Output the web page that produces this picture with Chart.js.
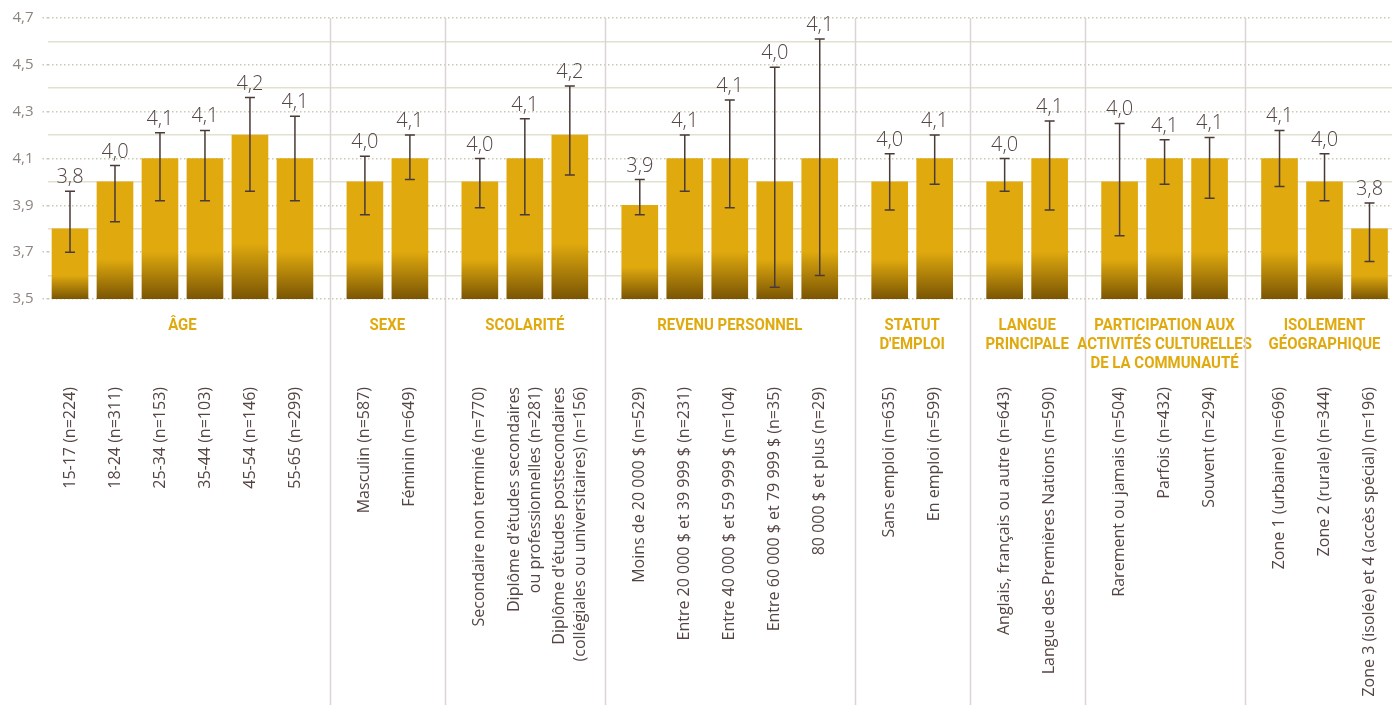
<!DOCTYPE html>
<html lang="fr">
<head>
<meta charset="utf-8">
<title>Moyennes selon les caractéristiques</title>
<script src="https://cdn.jsdelivr.net/npm/chart.js@4.4.1/dist/chart.umd.min.js"></script>
<style>
  html, body { margin: 0; padding: 0; background: #fff; }
  #wrap { width: 1392px; height: 705px; position: relative; }
</style>
</head>
<body>
<div id="wrap"><canvas id="meanChart"></canvas></div>
<script>
const groupTitles = [
  ['ÂGE'],
  ['SEXE'],
  ['SCOLARITÉ'],
  ['REVENU PERSONNEL'],
  ['STATUT', "D'EMPLOI"],
  ['LANGUE', 'PRINCIPALE'],
  ['PARTICIPATION AUX', 'ACTIVITÉS CULTURELLES', 'DE LA COMMUNAUTÉ'],
  ['ISOLEMENT', 'GÉOGRAPHIQUE']
];
const groupSizes = [6, 2, 3, 5, 2, 2, 3, 3];

const categories = [
  ['15-17 (n=224)'], ['18-24 (n=311)'], ['25-34 (n=153)'], ['35-44 (n=103)'], ['45-54 (n=146)'], ['55-65 (n=299)'],
  ['Masculin (n=587)'], ['Féminin (n=649)'],
  ['Secondaire non terminé (n=770)'],
  ["Diplôme d'études secondaires", 'ou professionnelles (n=281)'],
  ["Diplôme d'études postsecondaires", '(collégiales ou universitaires) (n=156)'],
  ['Moins de 20 000 $ (n=529)'], ['Entre 20 000 $ et 39 999 $ (n=231)'], ['Entre 40 000 $ et 59 999 $ (n=104)'],
  ['Entre 60 000 $ et 79 999 $ (n=35)'], ['80 000 $ et plus (n=29)'],
  ['Sans emploi (n=635)'], ['En emploi (n=599)'],
  ['Anglais, français ou autre (n=643)'], ['Langue des Premières Nations (n=590)'],
  ['Rarement ou jamais (n=504)'], ['Parfois (n=432)'], ['Souvent (n=294)'],
  ['Zone 1 (urbaine) (n=696)'], ['Zone 2 (rurale) (n=344)'], ['Zone 3 (isolée) et 4 (accès spécial) (n=196)']
];

const means = [3.8, 4.0, 4.1, 4.1, 4.2, 4.1, 4.0, 4.1, 4.0, 4.1, 4.2, 3.9, 4.1, 4.1, 4.0, 4.1, 4.0, 4.1, 4.0, 4.1, 4.0, 4.1, 4.1, 4.1, 4.0, 3.8];
const ciLow = [3.70, 3.83, 3.92, 3.92, 3.96, 3.92, 3.86, 4.01, 3.89, 3.86, 4.03, 3.86, 3.96, 3.89, 3.55, 3.60, 3.88, 3.99, 3.96, 3.88, 3.77, 3.99, 3.93, 3.98, 3.92, 3.66];
const ciHigh = [3.96, 4.07, 4.21, 4.22, 4.36, 4.28, 4.11, 4.20, 4.10, 4.27, 4.41, 4.01, 4.20, 4.35, 4.49, 4.61, 4.12, 4.20, 4.10, 4.26, 4.25, 4.18, 4.19, 4.22, 4.12, 3.91];

const yTicks = [3.5, 3.7, 3.9, 4.1, 4.3, 4.5, 4.7];
const yTickLabels = ['3,5', '3,7', '3,9', '4,1', '4,3', '4,5', '4,7'];

// extra room between two groups, in bar slots
const GROUP_GAP = 0.555;
const GOLD = '#e0aa0e';
const BROWN = '#7a5504';
const TEXT = '#544543';
const SEP = '#dcd3d3';

// x position of each bar: slot index + gaps for the groups already passed
const xPos = [];
groupSizes.forEach((n, g) => {
  for (let i = 0; i < n; i++) xPos.push(xPos.length + g * GROUP_GAP);
});

const tickIndex = v => yTicks.findIndex(t => Math.abs(t - v) < 1e-6);

const barFill = c => {
  const { ctx, chartArea, scales } = c.chart;
  if (!chartArea || !c.raw) return GOLD;
  const top = scales.y.getPixelForValue(c.raw.y);
  const bottom = scales.y.getPixelForValue(scales.y.min);
  const g = ctx.createLinearGradient(0, top, 0, bottom);
  g.addColorStop(0, GOLD);
  g.addColorStop(0.66, GOLD);
  g.addColorStop(1, BROWN);
  return g;
};

const annotate = {
  id: 'annotate',
  afterDatasetsDraw(chart) {
    const { ctx, chartArea, scales: { x, y } } = chart;
    ctx.save();

    // group separators and headers
    let start = 0;
    groupSizes.forEach((n, g) => {
      const first = start, last = start + n - 1;
      if (g > 0) {
        const sx = Math.round(x.getPixelForValue((xPos[first - 1] + xPos[first]) / 2)) + 0.5;
        ctx.strokeStyle = SEP;
        ctx.lineWidth = 1.5;
        ctx.beginPath();
        ctx.moveTo(sx, chartArea.top);
        ctx.lineTo(sx, chart.height);
        ctx.stroke();
      }
      const cx = (x.getPixelForValue(xPos[first]) + x.getPixelForValue(xPos[last])) / 2;
      ctx.fillStyle = GOLD;
      ctx.font = 'bold 17px Roboto';
      ctx.textAlign = 'center';
      ctx.textBaseline = 'middle';
      groupTitles[g].forEach((line, k) => {
        ctx.save();
        ctx.translate(cx, chartArea.bottom + 27 + k * 19);
        ctx.scale(0.88, 1);
        ctx.fillText(line, 0, 0);
        ctx.restore();
      });
      start += n;
    });

    // error bars and value labels
    xPos.forEach((v, i) => {
      const px = x.getPixelForValue(v);
      const yt = y.getPixelForValue(ciHigh[i]);
      const yb = y.getPixelForValue(ciLow[i]);
      ctx.strokeStyle = '#4a3a38';
      ctx.lineWidth = 1.5;
      ctx.beginPath();
      ctx.moveTo(px, yt); ctx.lineTo(px, yb);
      ctx.moveTo(px - 5, yt); ctx.lineTo(px + 5, yt);
      ctx.moveTo(px - 5, yb); ctx.lineTo(px + 5, yb);
      ctx.stroke();

      ctx.fillStyle = TEXT;
      ctx.font = '300 20px "Open Sans"';
      ctx.textAlign = 'center';
      ctx.textBaseline = 'alphabetic';
      ctx.fillText(means[i].toFixed(1).replace('.', ','), px, yt - 8);
    });

    // category labels, rotated
    ctx.font = '16px "Open Sans"';
    ctx.fillStyle = TEXT;
    ctx.textAlign = 'right';
    ctx.textBaseline = 'middle';
    categories.forEach((lines, i) => {
      const px = x.getPixelForValue(xPos[i]);
      ctx.save();
      ctx.translate(px, chartArea.bottom + 88);
      ctx.rotate(-Math.PI / 2);
      lines.forEach((line, k) => {
        ctx.fillText(line, 0, (k - (lines.length - 1) / 2) * 21);
      });
      ctx.restore();
    });

    ctx.restore();
  }
};

new Chart(document.getElementById('meanChart'), {
  type: 'bar',
  data: {
    datasets: [{
      data: xPos.map((v, i) => ({ x: v, y: means[i] })),
      backgroundColor: barFill,
      barThickness: 36,
      borderWidth: 0
    }]
  },
  options: {
    responsive: true,
    maintainAspectRatio: false,
    animation: false,
    layout: { padding: { top: 18, bottom: 406 } },
    plugins: { legend: { display: false }, tooltip: { enabled: false } },
    scales: {
      x: {
        type: 'linear',
        offset: false,
        min: -0.5,
        max: xPos[xPos.length - 1] + 0.5,
        display: false
      },
      y: {
        min: 3.5,
        max: 4.7,
        afterFit: s => { s.width = 47.5; },
        border: {
          display: false,
          dash: c => (c.tick && tickIndex(c.tick.value) >= 0) ? [1.5, 2.5] : []
        },
        grid: {
          color: c => tickIndex(c.tick.value) >= 0 ? '#c9c9b4' : '#e1e1cf',
          lineWidth: 1.5,
          tickLength: 5,
          tickColor: c => tickIndex(c.tick.value) >= 0 ? '#c9c9b4' : 'rgba(0,0,0,0)',
          tickBorderDash: [1.5, 2.5]
        },
        ticks: {
          stepSize: 0.1,
          padding: 9,
          color: '#8c8480',
          font: { family: 'Open Sans', size: 15 },
          callback: v => {
            const k = tickIndex(v);
            return k >= 0 ? yTickLabels[k] : '';
          }
        }
      }
    }
  },
  plugins: [annotate]
});
</script>
</body>
</html>
